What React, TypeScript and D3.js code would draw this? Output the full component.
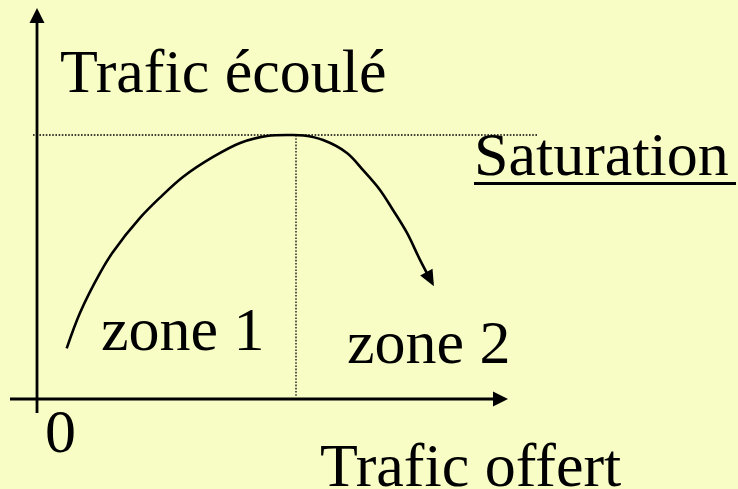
import React from "react";
import * as d3 from "d3";

// Offered traffic (relative to the saturation point) and carried traffic (relative to saturation level)
const offered = [0.118, 0.169, 0.246, 0.296, 0.4, 0.477, 0.565, 0.681, 0.785, 0.888, 0.977, 1.03, 1.104, 1.196, 1.258, 1.323, 1.373, 1.427, 1.477, 1.525];
const carried = [0.192, 0.326, 0.477, 0.557, 0.686, 0.763, 0.841, 0.917, 0.97, 0.996, 1.0, 0.998, 0.981, 0.932, 0.867, 0.792, 0.716, 0.629, 0.527, 0.437];
const saturationLevel = 1;
const saturationPoint = 1;
const originLabel = "0";
const yAxisTitle = "Trafic écoulé";
const xAxisTitle = "Trafic offert";
const saturationLabel = "Saturation";
const zoneLabels = ["zone 1", "zone 2"];

const W = 738;
const H = 489;
const FONT = "Liberation Serif, Times New Roman, DejaVu Serif, serif";
const BG = "#F8FDC6";

export default function App() {
  const x = d3.scaleLinear().domain([0, 1]).range([36, 296]);
  const y = d3.scaleLinear().domain([0, 1]).range([399, 135]);
  const pts: [number, number][] = offered.map((o, i) => [x(o), y(carried[i])]);
  const line = d3.line().curve(d3.curveCatmullRom.alpha(0.5))(pts) || "";

  const x0 = x(0);
  const y0 = y(0);
  const satY = y(saturationLevel);
  const satX = x(saturationPoint);

  const textStyle = { fontFamily: FONT, fontSize: "62px" } as React.CSSProperties;

  return (
    <svg
      width={W}
      height={H}
      style={{ position: "absolute", left: 0, top: 0, display: "block" }}
    >
      <defs>
        <marker
          id="curveArrow"
          markerUnits="userSpaceOnUse"
          markerWidth={20}
          markerHeight={20}
          viewBox="-2 -10 20 20"
          refX={13}
          refY={0}
          orient="auto"
        >
          <path d="M0,-7 L16,0 L0,7 Z" fill="#000" />
        </marker>
      </defs>
      <rect x={0} y={0} width={W} height={H} fill={BG} />

      {/* dotted reference lines */}
      <line x1={33} x2={538} y1={satY} y2={satY} stroke="#000" strokeWidth={1.3} strokeDasharray="1.6,1.6" />
      <line x1={satX} x2={satX} y1={satY} y2={y0 - 2} stroke="#000" strokeWidth={1.3} strokeDasharray="1.6,1.6" />

      {/* y axis */}
      <line x1={x0 + 1} x2={x0 + 1} y1={20} y2={413} stroke="#000" strokeWidth={2.8} />
      <path d={`M${x0 + 1},8 L${x0 + 8.5},23 L${x0 - 6.5},23 Z`} fill="#000" />

      {/* x axis */}
      <line x1={10} x2={496} y1={y0} y2={y0} stroke="#000" strokeWidth={3} />
      <path d={`M508,${y0} L493,${y0 - 7.5} L493,${y0 + 7.5} Z`} fill="#000" />

      {/* curve */}
      <path d={line} fill="none" stroke="#000" strokeWidth={2.6} markerEnd="url(#curveArrow)" />

      <g fill="#000">
        <text style={textStyle} x={60} y={92}>{yAxisTitle}</text>
        <text style={textStyle} x={474} y={175}>{saturationLabel}</text>
        <text style={textStyle} x={101} y={350}>{zoneLabels[0]}</text>
        <text style={textStyle} x={347} y={363}>{zoneLabels[1]}</text>
        <text style={textStyle} x={45} y={452}>{originLabel}</text>
        <text style={textStyle} x={320} y={486}>{xAxisTitle}</text>
      </g>
      <line x1={474} x2={736} y1={183.5} y2={183.5} stroke="#000" strokeWidth={3} />
    </svg>
  );
}
